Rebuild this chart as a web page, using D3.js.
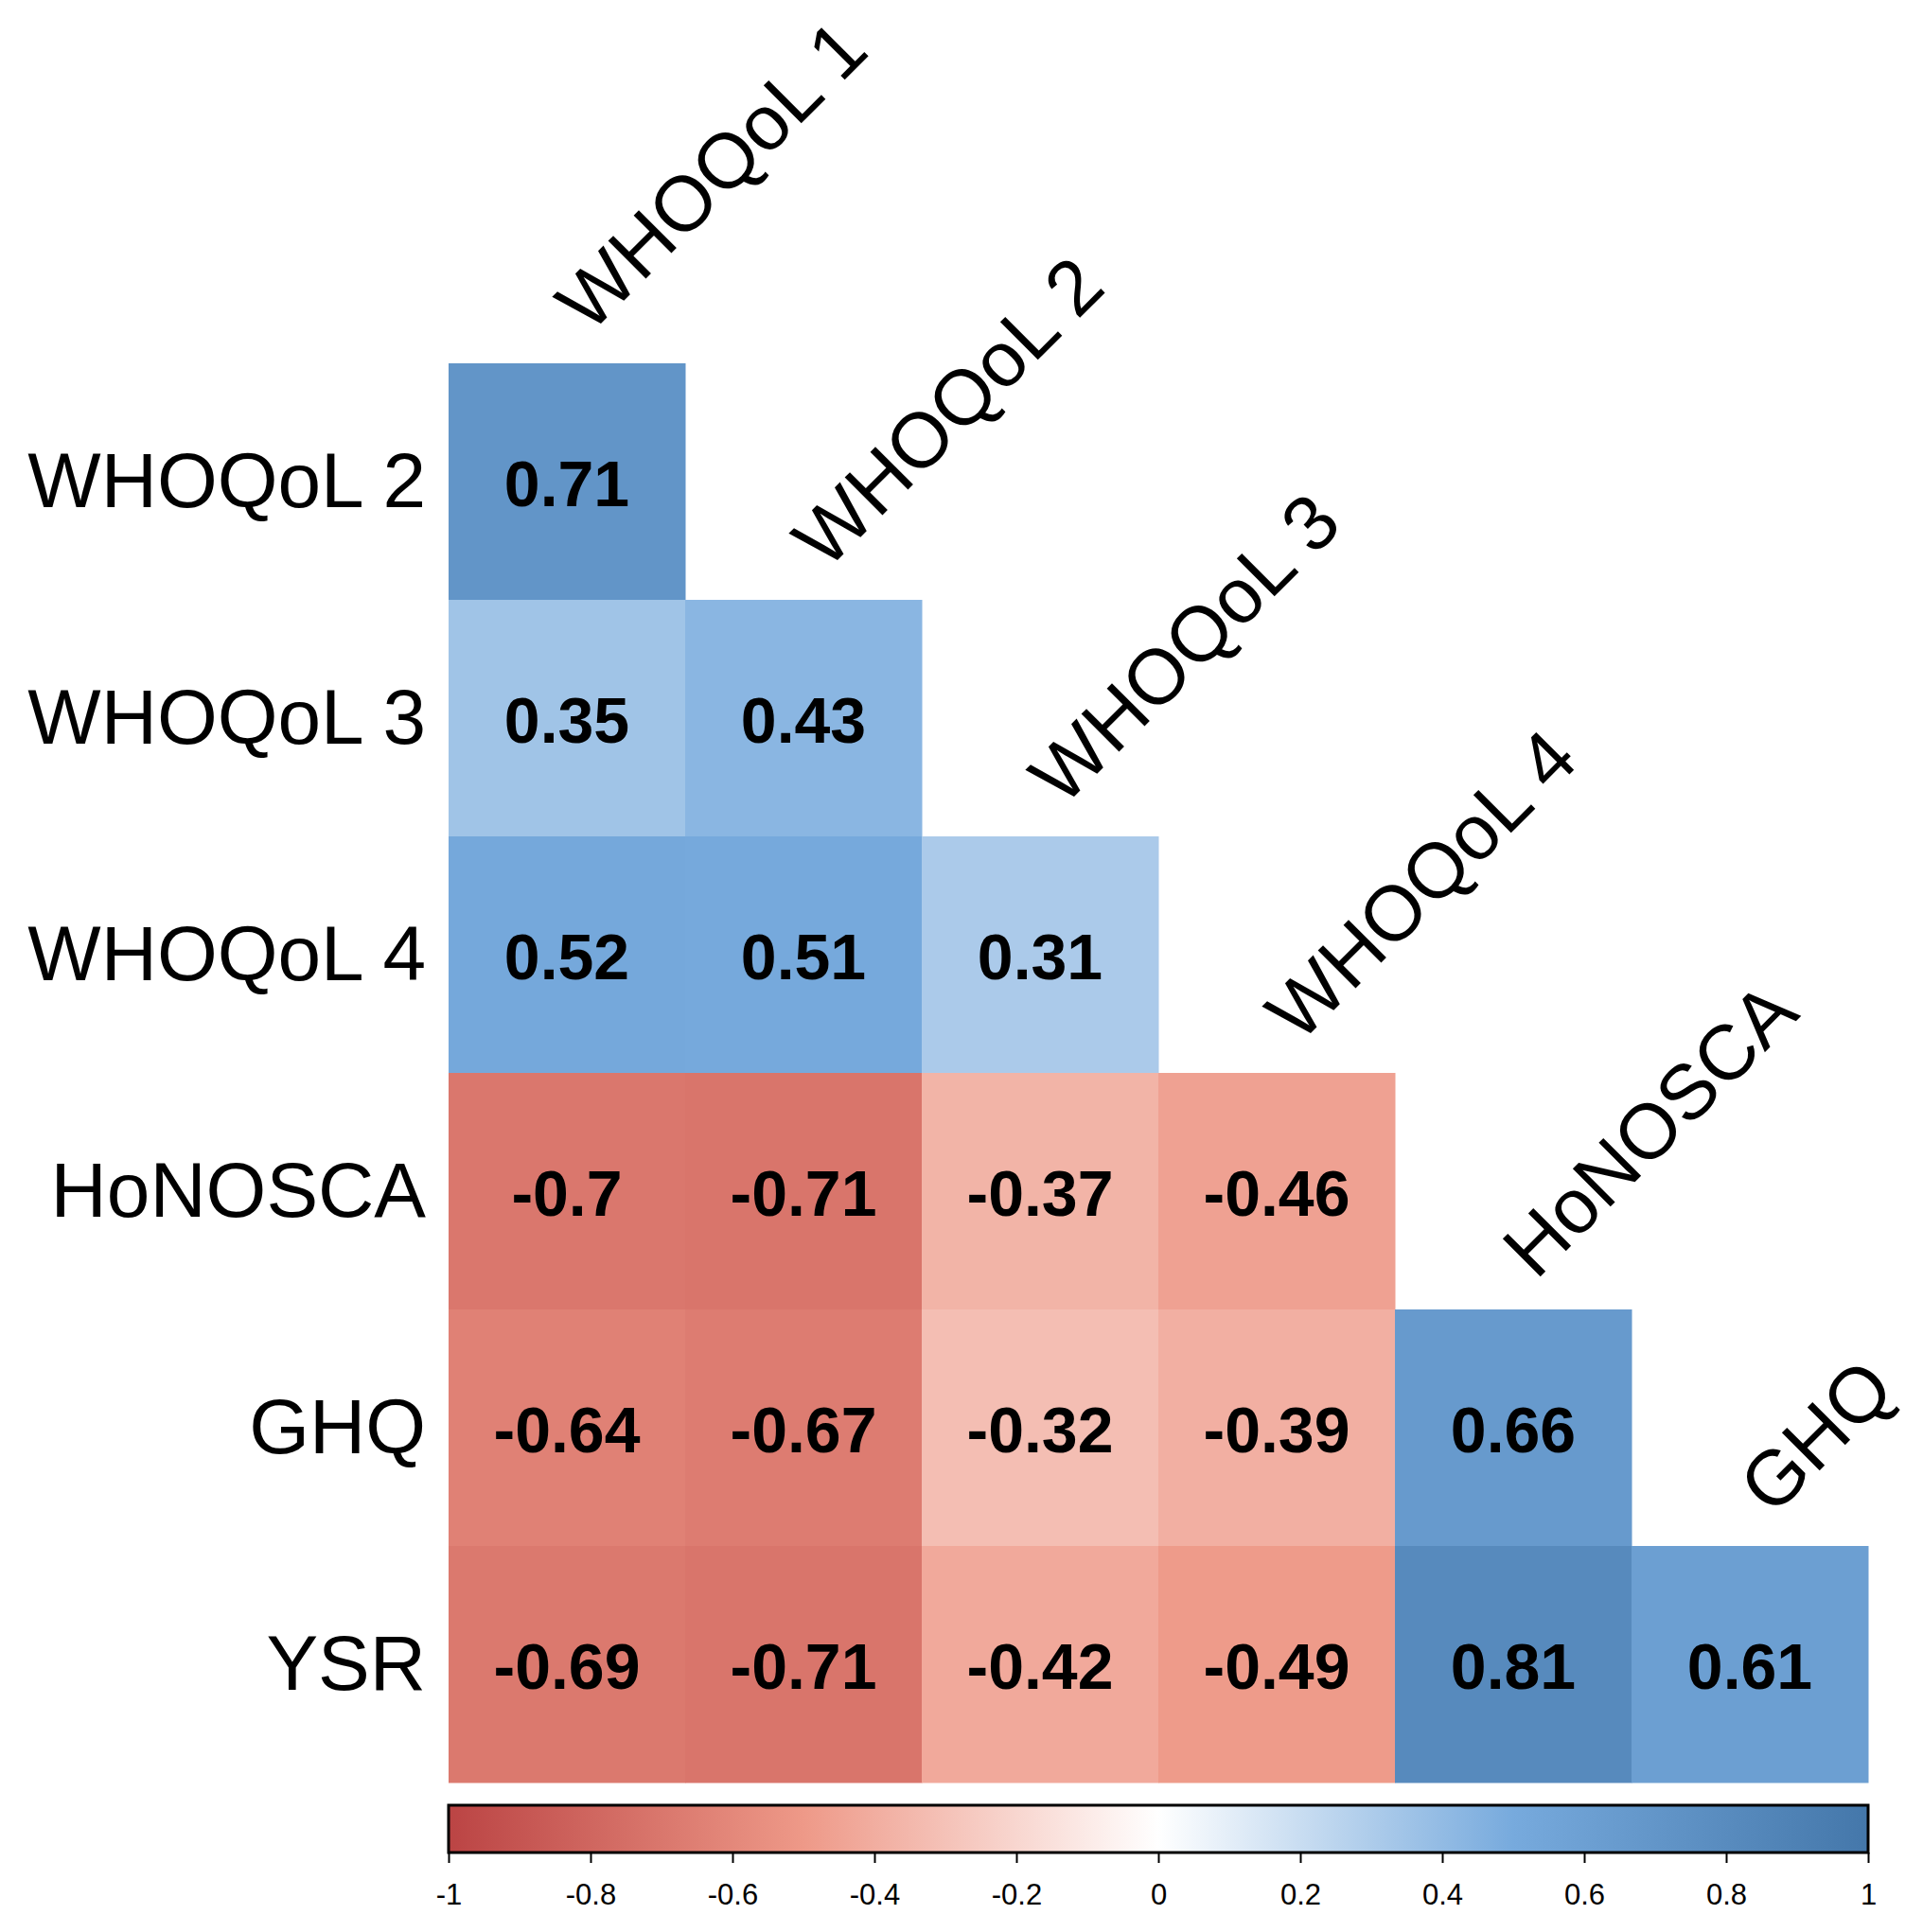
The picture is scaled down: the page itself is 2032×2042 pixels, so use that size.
<!DOCTYPE html>
<html>
<head>
<meta charset="utf-8">
<script src="https://cdn.jsdelivr.net/npm/d3@7"></script>
<style>
  body { margin: 0; background: #fff; }
  text { font-family: "Liberation Sans", Arial, sans-serif; }
</style>
</head>
<body>
<div id="chart"></div>
<script>
// variables, columns and rows of the lower triangle
let colNames = ["WHOQoL 1", "WHOQoL 2", "WHOQoL 3", "WHOQoL 4", "HoNOSCA", "GHQ"];
let rowNames = ["WHOQoL 2", "WHOQoL 3", "WHOQoL 4", "HoNOSCA", "GHQ", "YSR"];

// correlation values, one list per row (lower triangle, diagonal left out)
let rWHOQoL2 = [0.71];
let rWHOQoL3 = [0.35, 0.43];
let rWHOQoL4 = [0.52, 0.51, 0.31];
let rHoNOSCA = [-0.7, -0.71, -0.37, -0.46];
let rGHQ = [-0.64, -0.67, -0.32, -0.39, 0.66];
let rYSR = [-0.69, -0.71, -0.42, -0.49, 0.81, 0.61];

let legendTicks = [-1, -0.8, -0.6, -0.4, -0.2, 0, 0.2, 0.4, 0.6, 0.8, 1];
let paletteStops = [-1, -0.5, 0, 0.5, 1];
let paletteColors = ["#BB4444", "#EE9988", "#FFFFFF", "#77AADD", "#4477AA"];

let canvasWidth = 2032;
let canvasHeight = 2042;

let svg = d3.select("#chart")
    .append("svg")
    .attr("width", canvasWidth)
    .attr("height", canvasHeight);

svg.append("rect")
    .attr("width", "100%")
    .attr("height", "100%")
    .attr("fill", "white");

let gridLeft = 474, gridTop = 384, cellSize = 250;

let xScale = d3.scaleBand()
    .domain(colNames)
    .range([gridLeft, gridLeft + cellSize * colNames.length]);
let yScale = d3.scaleBand()
    .domain(rowNames)
    .range([gridTop, gridTop + cellSize * rowNames.length]);

let color = d3.scaleLinear()
    .domain(paletteStops)
    .range(paletteColors);

// flatten rows into cells
let rows = [rWHOQoL2, rWHOQoL3, rWHOQoL4, rHoNOSCA, rGHQ, rYSR];
let cells = [];
rows.forEach((vals, i) => {
    vals.forEach((v, j) => {
        cells.push({ row: rowNames[i], col: colNames[j], value: v });
    });
});

// tiles
svg.append("g")
    .selectAll("rect")
    .data(cells)
    .join("rect")
    .attr("x", d => xScale(d.col))
    .attr("y", d => yScale(d.row))
    .attr("width", xScale.bandwidth() + 0.5)
    .attr("height", yScale.bandwidth() + 0.5)
    .attr("fill", d => color(d.value));

// numbers in tiles
svg.append("g")
    .selectAll("text")
    .data(cells)
    .join("text")
    .attr("x", d => xScale(d.col) + xScale.bandwidth() / 2)
    .attr("y", d => yScale(d.row) + yScale.bandwidth() / 2)
    .attr("dy", "0.38em")
    .attr("text-anchor", "middle")
    .attr("font-size", 68)
    .attr("font-weight", "bold")
    .attr("fill", "black")
    .text(d => String(d.value));

// row labels
svg.append("g")
    .selectAll("text")
    .data(rowNames)
    .join("text")
    .attr("x", gridLeft - 24)
    .attr("y", d => yScale(d) + yScale.bandwidth() / 2)
    .attr("dy", "0.33em")
    .attr("text-anchor", "end")
    .attr("font-size", 82)
    .text(d => d);

// column labels, rotated above the top tile of each column
svg.append("g")
    .selectAll("text")
    .data(colNames)
    .join("text")
    .attr("text-anchor", "start")
    .attr("font-size", 82)
    .attr("transform", (d, i) => {
        let cx = xScale(d) + xScale.bandwidth() / 2 + 24;
        let cy = yScale(rowNames[i]) - 30;
        return "translate(" + cx + ", " + cy + ") rotate(-45)";
    })
    .text(d => d);

// colour legend
let legendTop = 1908, legendHeight = 50;
let legendScale = d3.scaleLinear()
    .domain([-1, 1])
    .range([gridLeft, gridLeft + cellSize * colNames.length]);

let grad = svg.append("defs")
    .append("linearGradient")
    .attr("id", "corrGrad")
    .attr("x1", "0%").attr("x2", "100%")
    .attr("y1", "0%").attr("y2", "0%");

grad.selectAll("stop")
    .data(paletteStops)
    .join("stop")
    .attr("offset", d => ((d + 1) / 2 * 100) + "%")
    .attr("stop-color", d => color(d));

svg.append("rect")
    .attr("x", legendScale(-1))
    .attr("y", legendTop)
    .attr("width", legendScale(1) - legendScale(-1))
    .attr("height", legendHeight)
    .attr("fill", "url(#corrGrad)")
    .attr("stroke", "black")
    .attr("stroke-width", 3);

let legendAxis = svg.append("g")
    .attr("transform", "translate(0, " + (legendTop + legendHeight) + ")")
    .call(d3.axisBottom(legendScale)
        .tickValues(legendTicks)
        .tickSize(11)
        .tickPadding(22)
        .tickFormat(d => String(+d.toFixed(1))));

legendAxis.select(".domain").remove();
legendAxis.selectAll(".tick line")
    .attr("stroke", "black")
    .attr("stroke-width", 2);
legendAxis.selectAll(".tick text")
    .attr("font-size", 31)
    .attr("font-family", "Liberation Sans, Arial, sans-serif")
    .attr("fill", "black");
</script>
</body>
</html>
